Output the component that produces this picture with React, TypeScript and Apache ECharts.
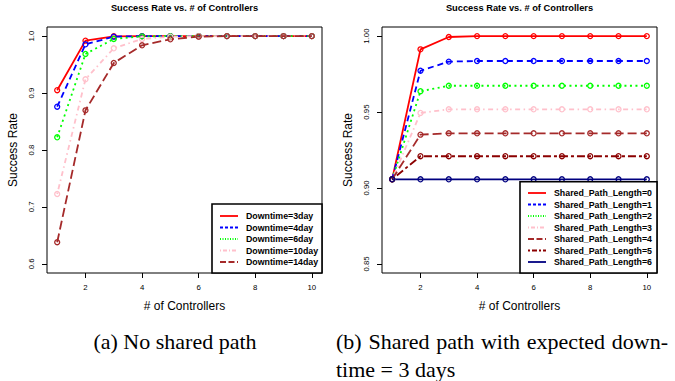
import React, { useEffect, useRef } from 'react';
import * as echarts from 'echarts';

const controllers = [1, 2, 3, 4, 5, 6, 7, 8, 9, 10];
const xTicks = [2, 4, 6, 8, 10];
const leftYTicks = [0.6, 0.7, 0.8, 0.9, 1.0];
const rightYTicks = [0.85, 0.9, 0.95, 1.0];

const chartTitle = 'Success Rate vs. # of Controllers';
const xName = '# of Controllers';
const yName = 'Success Rate';

// (a) No shared path
const leftNames = ['Downtime=3day', 'Downtime=4day', 'Downtime=6day', 'Downtime=10day', 'Downtime=14day'];
const down3 = [0.905, 0.992, 0.9997, 1, 1, 1, 1, 1, 1, 1];
const down4 = [0.876, 0.9856, 0.999, 1, 1, 1, 1, 1, 1, 1];
const down6 = [0.8223, 0.9686, 0.995, 0.9995, 1, 1, 1, 1, 1, 1];
const down10 = [0.7227, 0.9242, 0.9786, 0.995, 0.999, 1, 1, 1, 1, 1];
const down14 = [0.638, 0.8697, 0.9528, 0.9839, 0.9944, 0.999, 1, 1, 1, 1];

// (b) Shared path with expected downtime = 3 days
const rightNames = [
  'Shared_Path_Length=0', 'Shared_Path_Length=1', 'Shared_Path_Length=2', 'Shared_Path_Length=3',
  'Shared_Path_Length=4', 'Shared_Path_Length=5', 'Shared_Path_Length=6',
];
const len0 = [0.9057, 0.9913, 0.9994, 1, 1, 1, 1, 1, 1, 1];
const len1 = [0.9057, 0.9772, 0.9832, 0.9836, 0.9836, 0.9836, 0.9836, 0.9836, 0.9836, 0.9836];
const len2 = [0.9057, 0.9637, 0.9673, 0.9673, 0.9673, 0.9673, 0.9673, 0.9673, 0.9673, 0.9673];
const len3 = [0.9057, 0.9494, 0.9518, 0.9518, 0.9518, 0.9518, 0.9518, 0.9518, 0.9518, 0.9518];
const len4 = [0.9057, 0.9351, 0.936, 0.936, 0.936, 0.936, 0.936, 0.936, 0.936, 0.936];
const len5 = [0.9057, 0.9209, 0.9209, 0.9209, 0.9209, 0.9209, 0.9209, 0.9209, 0.9209, 0.9209];
const len6 = [0.9057, 0.9057, 0.9057, 0.9057, 0.9057, 0.9057, 0.9057, 0.9057, 0.9057, 0.9057];

const captionA = '(a) No shared path';
const captionB1 = '(b) Shared path with expected down-';
const captionB2 = 'time = 3 days';

const leftData = [down3, down4, down6, down10, down14];
const rightData = [len0, len1, len2, len3, len4, len5, len6];

const colors = ['#FF0000', '#0000FF', '#00FF00', '#FFC0CB', '#A52A2A', '#8B0000', '#000080'];
const plotDash: any[] = ['solid', [6, 4], [2, 3.5], [1.5, 3.5, 5, 3.5], [9, 4], [3, 3, 8, 3], 'solid'];
const legDash: any[] = [null, [3, 2], [1, 1.5], [1, 2, 4, 2], [6, 2.5], [2, 2, 5, 2], null];

const SANS = '"Liberation Sans", Arial, Helvetica, sans-serif';
const SERIF = '"Liberation Serif", "Times New Roman", serif';

const G = [
  { left: 47, top: 27, width: 275, height: 246 },
  { left: 382, top: 27, width: 275, height: 246 },
];

function mkSeries(name: string, vals: number[], i: number, grid: number) {
  return {
    type: 'line',
    name,
    xAxisIndex: grid,
    yAxisIndex: grid,
    data: controllers.map((c, k) => [c, vals[k]]),
    symbol: 'circle',
    symbolSize: 5,
    lineStyle: { color: colors[i], width: 1.8, type: plotDash[i] },
    itemStyle: { color: 'rgba(0,0,0,0)', borderColor: colors[i], borderWidth: 1.3 },
    emphasis: { disabled: true },
    silent: true,
  };
}

function mkX(grid: number) {
  return {
    type: 'value',
    gridIndex: grid,
    min: 0.64,
    max: 10.36,
    axisLine: { show: false },
    splitLine: { show: false },
    axisTick: { show: true, inside: false, length: 5, customValues: xTicks, lineStyle: { color: '#000', width: 1 } },
    axisLabel: { customValues: xTicks, margin: 10, fontSize: 7.8, fontFamily: SANS, color: '#000' },
    name: xName,
    nameLocation: 'middle',
    nameGap: 27,
    nameTextStyle: { fontSize: 12, fontFamily: SANS, color: '#000' },
  };
}

function mkY(grid: number, min: number, max: number, ticks: number[], dec: number) {
  return {
    type: 'value',
    gridIndex: grid,
    min,
    max,
    axisLine: { show: false },
    splitLine: { show: false },
    axisTick: { show: true, inside: false, length: 5, customValues: ticks, lineStyle: { color: '#000', width: 1 } },
    axisLabel: {
      customValues: ticks,
      rotate: 90,
      margin: 12,
      fontSize: 7.8,
      fontFamily: SANS,
      color: '#000',
      formatter: (v: number) => v.toFixed(dec),
    },
    name: yName,
    nameLocation: 'middle',
    nameGap: 28,
    nameTextStyle: { fontSize: 12, fontFamily: SANS, color: '#000' },
  };
}

function legendGraphics(names: string[], box: { x: number; y: number; w: number; h: number }, rowY0: number) {
  const els: any[] = [];
  els.push({
    type: 'rect',
    shape: { x: box.x, y: box.y, width: box.w, height: box.h },
    style: { fill: '#fff', stroke: '#000', lineWidth: 1.6 },
    z: 100,
  });
  names.forEach((n, i) => {
    const y = rowY0 + i * 11.5;
    els.push({
      type: 'line',
      shape: { x1: box.x + 8, y1: y, x2: box.x + 26, y2: y },
      style: { stroke: colors[i], lineWidth: 1.8, lineDash: legDash[i] || undefined },
      z: 101,
    });
    els.push({
      type: 'text',
      x: box.x + 34,
      y,
      style: {
        text: n,
        fontSize: 8.8,
        fontWeight: 'bold',
        fontFamily: SANS,
        fill: '#000',
        textVerticalAlign: 'middle',
        verticalAlign: 'middle',
      },
      z: 101,
    });
  });
  return els;
}

function measure(text: string, font: string) {
  const c = document.createElement('canvas').getContext('2d');
  if (!c) return text.length * 9;
  c.font = font;
  return c.measureText(text).width;
}

export default function App() {
  const ref = useRef<HTMLDivElement>(null);
  useEffect(() => {
    if (!ref.current) return;
    const chart = echarts.init(ref.current, undefined, { renderer: 'svg' });

    const capSize = 22;
    const capFont = `${capSize}px "Liberation Serif"`;
    const words = captionB1.split(' ');
    const wWidths = words.map((w) => measure(w, capFont));
    const startX = 336;
    const endX = 668;
    const gap = (endX - startX - wWidths.reduce((a, b) => a + b, 0)) / (words.length - 1);
    const capTexts: any[] = [];
    let cx = startX;
    words.forEach((w, i) => {
      capTexts.push({
        type: 'text',
        x: cx,
        y: 341,
        style: { text: w, fontSize: capSize, fontFamily: SERIF, fill: '#000', textVerticalAlign: 'middle', verticalAlign: 'middle' },
      });
      cx += wWidths[i] + gap;
    });

    const titleStyle = {
      fontSize: 9.3,
      fontWeight: 'bold',
      fontFamily: SANS,
      fill: '#000',
      textAlign: 'center',
      align: 'center',
      textVerticalAlign: 'middle',
      verticalAlign: 'middle',
    };

    chart.setOption({
      animation: false,
      backgroundColor: '#fff',
      grid: G.map((g) => ({ ...g, show: true, borderColor: '#000', borderWidth: 1, backgroundColor: 'transparent', containLabel: false })),
      xAxis: [mkX(0), mkX(1)],
      yAxis: [mkY(0, 0.584, 1.016, leftYTicks, 1), mkY(1, 0.844, 1.006, rightYTicks, 2)],
      series: [
        ...leftNames.map((n, i) => mkSeries(n, leftData[i], i, 0)),
        ...rightNames.map((n, i) => mkSeries(n, rightData[i], i, 1)),
      ],
      graphic: [
        { type: 'text', x: 184.5, y: 7.5, style: { text: chartTitle, ...titleStyle } },
        { type: 'text', x: 519.5, y: 7.5, style: { text: chartTitle, ...titleStyle } },
        ...legendGraphics(leftNames, { x: 212, y: 204, w: 110, h: 69 }, 216),
        ...legendGraphics(rightNames, { x: 520, y: 181.7, w: 137, h: 91.3 }, 193),
        {
          type: 'text',
          x: 175,
          y: 341,
          style: { text: captionA, fontSize: capSize, fontFamily: SERIF, fill: '#000', textAlign: 'center', align: 'center', textVerticalAlign: 'middle', verticalAlign: 'middle' },
        },
        ...capTexts,
        {
          type: 'text',
          x: 336,
          y: 369,
          style: { text: captionB2, fontSize: capSize, fontFamily: SERIF, fill: '#000', textVerticalAlign: 'middle', verticalAlign: 'middle' },
        },
      ],
    });
    return () => chart.dispose();
  }, []);
  return (
    <div
      ref={ref}
      style={{ position: 'fixed', left: 0, top: 0, width: 675, height: 381, background: '#fff' }}
    />
  );
}
